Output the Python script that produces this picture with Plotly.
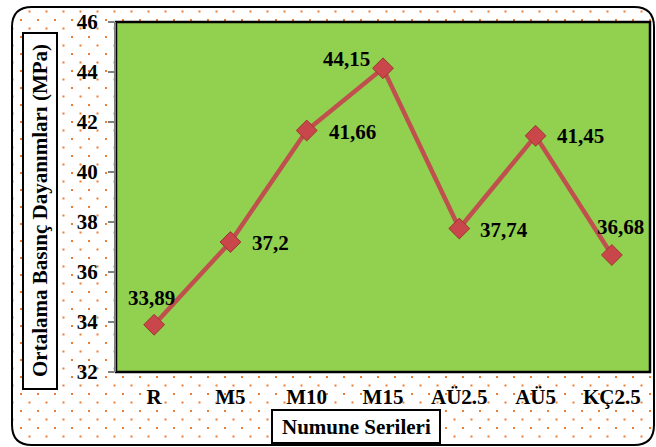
import base64
import plotly.graph_objects as go

categories = ["R", "M5", "M10", "M15", "AÜ2.5", "AÜ5", "KÇ2.5"]
values = [33.89, 37.2, 41.66, 44.15, 37.74, 41.45, 36.68]
labels = ["33,89", "37,2", "41,66", "44,15", "37,74", "41,45", "36,68"]
y_ticks = [32, 34, 36, 38, 40, 42, 44, 46]

# label offsets (pixels) relative to each point
label_dx = [-3, 40, 46, -37, 45, 45, 9]
label_dy = [27, -1, -1, 9, -1, 0, 28]

W, H = 656, 447
L, R, T, B = 116, 6, 22, 75
PW, PH = W - L - R, H - T - B

FONT = "Liberation Serif, Times New Roman, serif"
FS = 21

def px(x):
    return (x - L) / PW

def py(y):
    return (H - B - y) / PH

# dotted background pattern as an SVG image
svg = (
    f'<svg xmlns="http://www.w3.org/2000/svg" width="{W}" height="{H}">'
    '<defs><pattern id="p" width="17" height="17" patternUnits="userSpaceOnUse" x="3" y="2">'
    '<rect x="0" y="0" width="2" height="2" fill="#ED7D31"/>'
    '<rect x="8.5" y="8.5" width="2" height="2" fill="#ED7D31"/>'
    '</pattern></defs>'
    f'<rect x="13" y="8" width="{W-14}" height="{H-8}" rx="20" ry="20" fill="url(#p)"/>'
    '</svg>'
)
src = "data:image/svg+xml;base64," + base64.b64encode(svg.encode()).decode()

fig = go.Figure()
fig.add_trace(go.Scatter(
    x=categories, y=values, mode="lines+markers",
    line=dict(color="#C0504D", width=4.5),
    marker=dict(symbol="diamond", size=16, color="#C9474A",
                line=dict(color="#9B3532", width=1)),
    hoverinfo="skip", showlegend=False,
))

annotations = []
for c, v, t, dx, dy in zip(categories, values, labels, label_dx, label_dy):
    annotations.append(dict(x=c, y=v, xref="x", yref="y", text="<b>" + t + "</b>",
                            showarrow=False, xanchor="center", yanchor="middle",
                            xshift=dx, yshift=dy,
                            font=dict(family=FONT, size=FS, color="black")))
annotations.append(dict(x=px(356), y=py(427), xref="paper", yref="paper",
                        xanchor="center", yanchor="middle",
                        text="<b>Numune Serileri</b>", showarrow=False,
                        font=dict(family=FONT, size=FS, color="black")))
annotations.append(dict(x=px(40), y=py(211), xref="paper", yref="paper",
                        xanchor="center", yanchor="middle",
                        text="<b>Ortalama Basınç Dayanımları (MPa)</b>", showarrow=False,
                        textangle=-90,
                        font=dict(family=FONT, size=21, color="black")))

# rounded outer border
x0, y0, x1, y1, r = px(12), py(7), px(654), py(445), 20
rx, ry = r / PW, r / PH
path = (f"M {x0+rx},{y0} L {x1-rx},{y0} Q {x1},{y0} {x1},{y0-ry} "
        f"L {x1},{y1+ry} Q {x1},{y1} {x1-rx},{y1} L {x0+rx},{y1} "
        f"Q {x0},{y1} {x0},{y1+ry} L {x0},{y0-ry} Q {x0},{y0} {x0+rx},{y0} Z")

shapes = [
    dict(type="path", path=path, xref="paper", yref="paper",
         line=dict(color="black", width=2), fillcolor="rgba(0,0,0,0)", layer="below"),
    dict(type="rect", xref="paper", yref="paper", x0=0, y0=0, x1=1, y1=1,
         fillcolor="#92D050", line=dict(color="black", width=2.5), layer="below"),
    dict(type="rect", xref="paper", yref="paper", x0=px(23), x1=px(57), y0=py(33), y1=py(389),
         fillcolor="white", line=dict(color="black", width=2), layer="below"),
    dict(type="rect", xref="paper", yref="paper", x0=px(272), x1=px(440), y0=py(410), y1=py(443),
         fillcolor="white", line=dict(color="black", width=2), layer="below"),
]

fig.update_layout(
    width=W, height=H,
    margin=dict(l=L, r=R, t=T, b=B),
    paper_bgcolor="white",
    plot_bgcolor="rgba(0,0,0,0)",
    font=dict(family=FONT, size=FS, color="black"),
    images=[dict(source=src, xref="paper", yref="paper", x=px(0), y=py(0),
                 sizex=W / PW, sizey=H / PH, xanchor="left", yanchor="top",
                 sizing="stretch", layer="below")],
    shapes=shapes,
    annotations=annotations,
    xaxis=dict(type="category", range=[-0.5, 6.5], showgrid=False, zeroline=False,
               showline=False, ticks="", tickfont=dict(family=FONT, size=FS),
               ticklabelstandoff=10,
               tickmode="array", tickvals=categories,
               ticktext=["<b>" + c + "</b>" for c in categories]),
    yaxis=dict(range=[32, 46], showgrid=False, zeroline=False, showline=True,
               linecolor="#808080", linewidth=2, ticks="outside", ticklen=6,
               tickcolor="#808080", tickwidth=2,
               tickvals=y_ticks, ticktext=["<b>%d</b>" % v for v in y_ticks],
               tickfont=dict(family=FONT, size=FS), ticklabelstandoff=6),
)

fig.write_html("out.html")
